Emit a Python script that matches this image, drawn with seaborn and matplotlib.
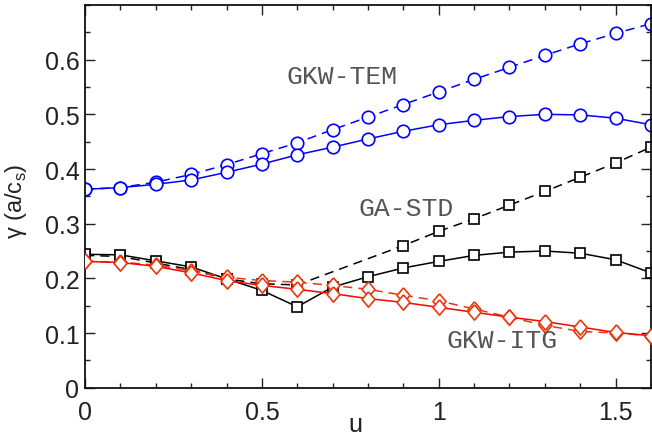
import numpy as np
import pandas as pd
import matplotlib
matplotlib.use("Agg")
import matplotlib.pyplot as plt
import seaborn as sns
from matplotlib.ticker import MultipleLocator

# Growth rate vs. u for the three model families
u = [0.0, 0.1, 0.2, 0.3, 0.4, 0.5, 0.6, 0.7, 0.8, 0.9, 1.0, 1.1, 1.2, 1.3, 1.4, 1.5, 1.6]

gkw_tem_solid = [0.363, 0.366, 0.372, 0.380, 0.394, 0.409, 0.426, 0.440, 0.455, 0.469,
                 0.481, 0.489, 0.496, 0.500, 0.499, 0.493, 0.481]
gkw_tem_dashed = [0.363, 0.366, 0.376, 0.390, 0.408, 0.428, 0.448, 0.472, 0.495, 0.518,
                  0.541, 0.564, 0.586, 0.608, 0.629, 0.648, 0.666]

ga_std_solid = [0.244, 0.243, 0.232, 0.221, 0.199, 0.178, 0.148, 0.184, 0.203, 0.219,
                0.231, 0.242, 0.248, 0.250, 0.246, 0.234, 0.210]
u_ga_dashed = [0.0, 0.1, 0.2, 0.3, 0.4, 0.5, 0.6, 0.9, 1.0, 1.1, 1.2, 1.3, 1.4, 1.5, 1.6]
ga_std_dashed = [0.242, 0.240, 0.228, 0.216, 0.199, 0.190, 0.188, 0.260, 0.286, 0.309,
                 0.334, 0.359, 0.385, 0.411, 0.440]

gkw_itg_solid = [0.231, 0.229, 0.222, 0.210, 0.196, 0.187, 0.180, 0.172, 0.163, 0.156,
                 0.147, 0.138, 0.129, 0.121, 0.111, 0.101, 0.095]
gkw_itg_dashed = [0.231, 0.230, 0.224, 0.214, 0.202, 0.196, 0.193, 0.187, 0.180, 0.169,
                  0.159, 0.144, 0.129, 0.114, 0.103, 0.100, 0.095]

labels = ["GKW-TEM", "GA-STD", "GKW-ITG"]
label_pos = [(0.726, 0.571), (0.907, 0.328), (1.178, 0.088)]

sns.set_style("ticks")
plt.rcParams["font.family"] = ["Liberation Sans", "DejaVu Sans"]

fig = plt.figure(figsize=(6.52, 4.39), dpi=100)
ax = fig.add_axes([0.1304, 0.1146, 0.868, 0.8717])

blue = "#0000ff"
red = "#ff0000"
red_edge = "#e8380d"
# slightly narrow diamond
diamond = [(0, 1), (0.85, 0), (0, -1), (-0.85, 0), (0, 1)]

def draw(x, y, color, marker, ms, dashed, mec=None, z=2):
    kw = dict(color=color, marker=marker, markersize=ms, markerfacecolor="white",
              markeredgecolor=mec or color, markeredgewidth=1.2, linewidth=1.1,
              clip_on=True, zorder=z)
    if dashed:
        kw["dashes"] = (6, 4)
    sns.lineplot(x=x, y=y, ax=ax, sort=False, estimator=None, **kw)

draw(u, gkw_tem_dashed, blue, "o", 9, True)
draw(u, gkw_tem_solid, blue, "o", 9, False)
draw(u_ga_dashed, ga_std_dashed, "black", "s", 7, True)
draw(u, ga_std_solid, "black", "s", 7, False)
draw(u, gkw_itg_dashed, "#e03a14", diamond, 11, True, mec=red_edge, z=3)
draw(u, gkw_itg_solid, red, diamond, 11, False, mec=red_edge, z=3)

for text, (xx, yy) in zip(labels, label_pos):
    ax.text(xx, yy, text, family=["Liberation Mono", "DejaVu Sans Mono"], fontsize=19,
            color="#555555", ha="center", va="center")

ax.set_xlim(0, 1.6)
ax.set_ylim(0, 0.7)
ax.set_xticks([0, 0.5, 1, 1.5])
ax.set_xticklabels(["0", "0.5", "1", "1.5"])
ax.set_yticks([0, 0.1, 0.2, 0.3, 0.4, 0.5, 0.6])
ax.set_yticklabels(["0", "0.1", "0.2", "0.3", "0.4", "0.5", "0.6"])
ax.xaxis.set_minor_locator(MultipleLocator(0.1))
ax.yaxis.set_minor_locator(MultipleLocator(0.05))
ax.tick_params(which="both", direction="in", top=True, right=True, width=1.0,
               color="#222222")
ax.tick_params(which="major", length=7, labelsize=18, labelcolor="#222222")
ax.tick_params(axis="x", which="major", pad=9)
ax.tick_params(axis="y", which="major", pad=4)
ax.tick_params(which="minor", length=3.5)
for sp in ax.spines.values():
    sp.set_linewidth(1.3)
    sp.set_color("#111111")
    sp.set_visible(True)

ax.set_xlabel("u", fontsize=18, color="#222222", va="center")
ax.xaxis.set_label_coords(0.477, -0.095)
ax.set_ylabel("γ (a/c$_{\\mathregular{s}}$)", fontsize=17, color="#222222", va="center")
ax.yaxis.set_label_coords(-0.122, 0.49)

fig.savefig("out.png", dpi=100)
